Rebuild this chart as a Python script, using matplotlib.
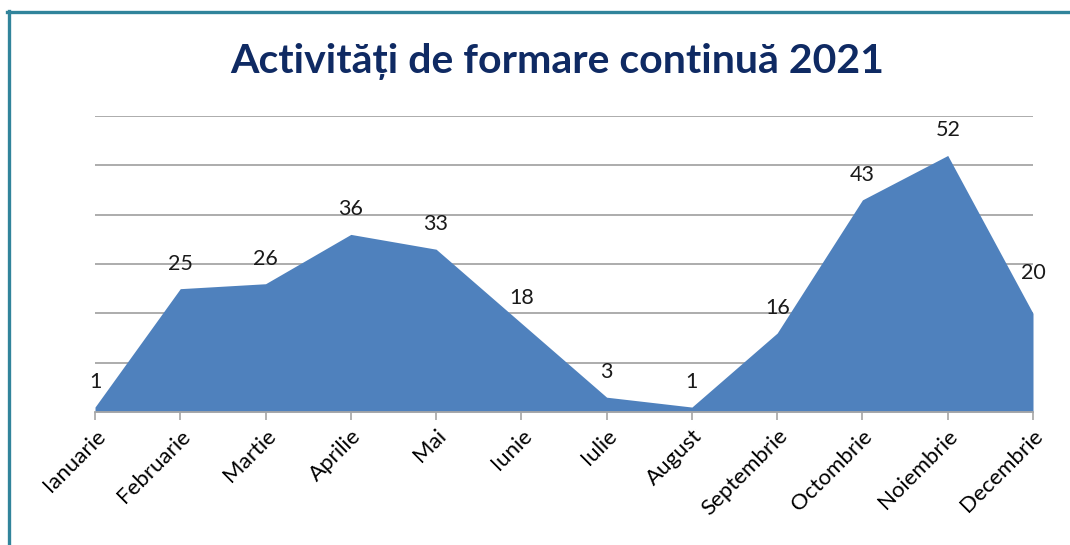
import matplotlib.pyplot as plt
from matplotlib.lines import Line2D

luni = ['Ianuarie', 'Februarie', 'Martie', 'Aprilie', 'Mai', 'Iunie',
        'Iulie', 'August', 'Septembrie', 'Octombrie', 'Noiembrie', 'Decembrie']
activitati = [1, 25, 26, 36, 33, 18, 3, 1, 16, 43, 52, 20]
grila = [10, 20, 30, 40, 50, 60]
titlu = 'Activități de formare continuă 2021'

plt.rcParams['font.family'] = ['Lato', 'DejaVu Sans']

fig = plt.figure(figsize=(10.7, 5.45), dpi=100)
ax = fig.add_axes([95 / 1070, 1 - 412 / 545, (1033 - 95) / 1070, (412 - 116) / 545])

x = list(range(len(luni)))
ax.fill_between(x, activitati, 0, color='#4F81BD', linewidth=0, zorder=2)

# gridlines drawn by hand so the top one at 60 shows too
for g in grila:
    ax.axhline(g, color='#A6A6A6', linewidth=1.3, zorder=1)

for i, v in enumerate(activitati):
    dy = 29 if i == len(activitati) - 1 else 18
    ax.annotate(str(v), (i, v), xytext=(0, dy), textcoords='offset points',
                ha='center', va='center', fontsize=15.5, color='#1a1a1a', zorder=3)

ax.set_xlim(0, len(luni) - 1)
ax.set_ylim(0, 60)
ax.set_xticks(x)
ax.set_xticklabels(luni, rotation=45, ha='right', rotation_mode='anchor', fontsize=16)
ax.set_yticks([])
ax.tick_params(axis='x', direction='out', length=6, width=1.2, color='#A6A6A6', pad=4)
for s in ['top', 'right', 'left']:
    ax.spines[s].set_visible(False)
ax.spines['bottom'].set_color('#A6A6A6')
ax.spines['bottom'].set_linewidth(1.3)
ax.spines['bottom'].set_zorder(4)

fig.text(557 / 1070, 1 - 61 / 545, titlu, ha='center', va='center',
         fontsize=29.5, fontweight='bold', color='#0F2A63')

# frame on the left and top
fig.add_artist(Line2D([8.5 / 1070, 8.5 / 1070], [0, 1 - 11 / 545], color='#31849B',
                      linewidth=2.4, transform=fig.transFigure))
fig.add_artist(Line2D([7 / 1070, 1], [1 - 12 / 545, 1 - 12 / 545], color='#31849B',
                      linewidth=2.4, transform=fig.transFigure))

fig.savefig('out.png', dpi=100)
